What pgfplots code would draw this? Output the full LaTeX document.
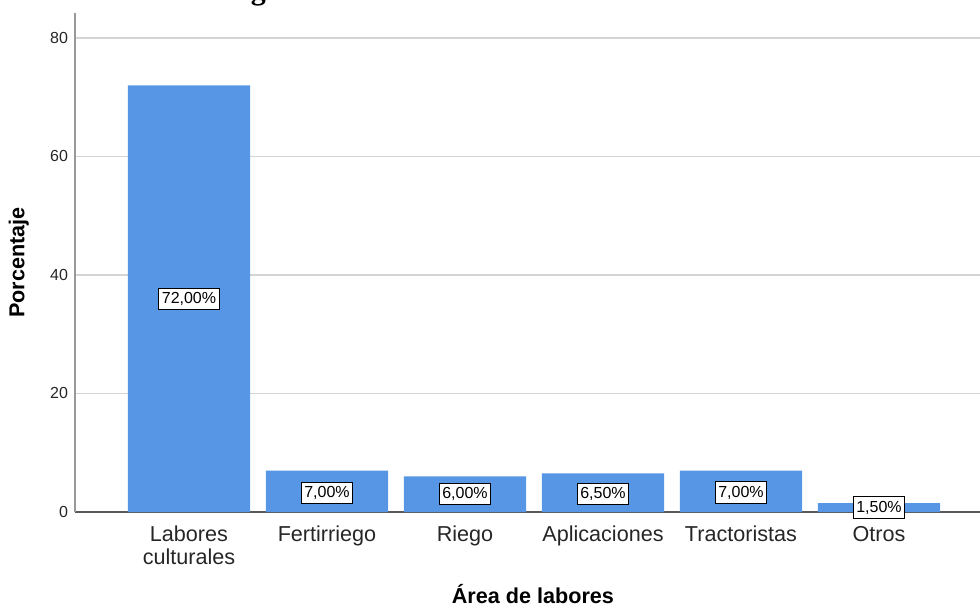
\documentclass[border=0pt]{standalone}
\usepackage{fontspec}
\setmainfont{Liberation Sans}
\newfontfamily\titlefont{Liberation Serif}
\usepackage{pgfplots}
\pgfplotsset{compat=1.18}
\definecolor{barblue}{RGB}{87,150,228}
\definecolor{gridgray}{RGB}{212,212,212}
\begin{document}
\begin{tikzpicture}
\path[use as bounding box] (-37.5pt,-47.5pt) rectangle (452.5pt,256pt);
\clip (-37.5pt,-47.5pt) rectangle (452.5pt,256pt);
\node[anchor=base east, font=\titlefont\bfseries\fontsize{15}{17}\selectfont, inner sep=0] at (213pt,256.4pt) {Actividades según área de labores};
\begin{axis}[
  at={(0,0)}, anchor=south west,
  scale only axis, width=452.5pt, height=249.5pt,
  xmin=-0.826, xmax=5.732, ymin=0, ymax=84.2,
  axis x line*=bottom, axis y line*=left,
  xtick={0,1,2,3,4,5},
  xticklabels={{Labores\\culturales},Fertirriego,Riego,Aplicaciones,Tractoristas,Otros},
  xticklabel style={align=center, font=\fontsize{10.8}{11.5}\selectfont, text=black!85, yshift=-3.5pt},
  ytick={0,20,40,60,80},
  yticklabel style={font=\fontsize{8}{9}\selectfont, text=black!85},
  major tick length=0pt,
  ymajorgrids, grid style={gridgray, line width=0.8pt},
  x axis line style={black!65, line width=0.7pt},
  y axis line style={black!40, line width=0.7pt},
  /pgf/number format/assume math mode=true,
  xlabel={Área de labores}, ylabel={Porcentaje},
  label style={font=\bfseries\fontsize{10.8}{12}\selectfont},
  xlabel style={at={(axis description cs:0.506,-0.1824)}, anchor=base},
  ylabel style={at={(axis description cs:-0.062,0.5)}, anchor=center},
]
\addplot[ybar, bar width=0.885, fill=barblue, draw=none] coordinates {(0,72) (1,7) (2,6) (3,6.5) (4,7) (5,1.5)};
\addplot[draw=none, mark=none, nodes near coords, point meta=explicit symbolic,
  nodes near coords style={anchor=center, fill=white, draw=black, line width=0.5pt, inner xsep=1.5pt, inner ysep=2pt, font=\fontsize{8}{9}\selectfont}]
  coordinates {(0,36) [72,00\%] (1,3.2) [7,00\%] (2,3) [6,00\%] (3,3.1) [6,50\%] (4,3.3) [7,00\%] (5,0.75) [1,50\%]};
\end{axis}
\end{tikzpicture}
\end{document}
